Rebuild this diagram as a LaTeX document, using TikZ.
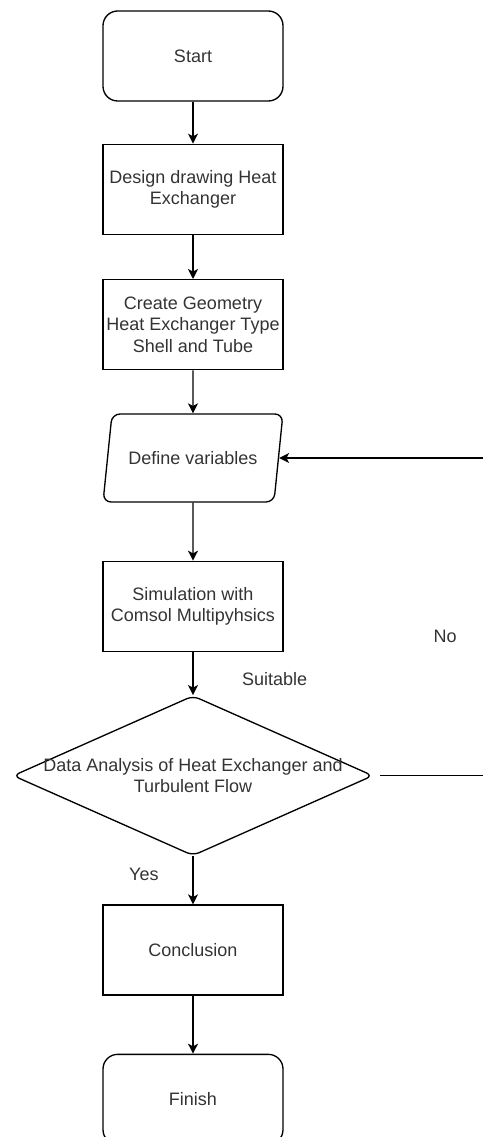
\documentclass[tikz,border=0pt]{standalone}
\usepackage{fontspec}
\setmainfont{Liberation Sans}
\usetikzlibrary{positioning,shapes.geometric,arrows.meta}
\definecolor{txt}{HTML}{333333}

\begin{document}
\begin{tikzpicture}
  \tikzset{every node/.style={font=\fontsize{13.5pt}{16.2pt}\selectfont, text=txt},
    box/.style={draw, line width=1pt, minimum width=135pt, minimum height=67.5pt, align=center, inner sep=1pt},
    term/.style={box, rounded corners=11pt},
    io/.style={draw, line width=1pt, trapezium, trapezium left angle=71, trapezium right angle=109,
      trapezium stretches=true, minimum width=135pt, minimum height=66pt, rounded corners=6pt},
    decide/.style={draw, line width=1pt, diamond, minimum width=270pt, minimum height=120pt,
      inner sep=0pt, rounded corners=5pt},
    flow/.style={-{Stealth[length=7.5pt,width=7.5pt,inset=2pt]}, line width=1pt}}
  \useasboundingbox (0,0) rectangle (361.5pt,-852.75pt);

  \node[term] (Start) at (144.75pt,-42pt) {Start};
  \node[box, below=31.5pt of Start] (Design) {Design drawing Heat\\Exchanger};
  \node[box, below=33pt of Design] (Geom) {Create Geometry\\Heat Exchanger Type\\Shell and Tube};
  \node[io, below=32.25pt of Geom] (Vars) {Define variables};
  \node[box, below=43.5pt of Vars] (Sim) {Simulation with\\Comsol Multipyhsics};
  \node[decide, below=32.25pt of Sim,
    label={[align=center]center:Data Analysis of Heat Exchanger and\\Turbulent Flow}] (Check) {};
  \node[box, below=36pt of Check] (Concl) {Conclusion};
  \node[term, below=43.5pt of Concl] (Finish) {Finish};
  \coordinate[right=85pt of Check.east] (Turn);

  \draw[flow] (Start) -- (Design);
  \draw[flow] (Design) -- (Geom);
  \draw[flow] (Geom) -- (Vars);
  \draw[flow] (Vars) -- (Sim);
  \draw[flow] (Sim) -- node[pos=0.64, right=33pt] {Suitable} (Check);
  \draw[flow] (Check) -- node[pos=0.38, left=22pt] {Yes} (Concl);
  \draw[flow] (Concl) -- (Finish);
  \draw[flow, shorten <=5pt] (Check.east) -- (Turn) |- node[pos=0.22, left=19pt] {No} (Vars);
\end{tikzpicture}
\end{document}
